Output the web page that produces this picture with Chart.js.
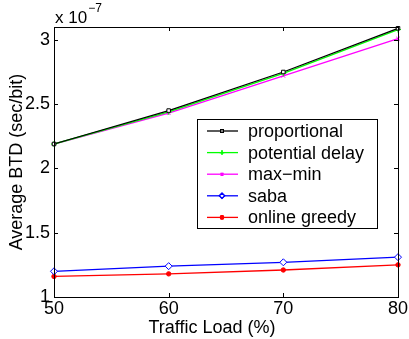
<!DOCTYPE html>
<html>
<head>
<meta charset="utf-8">
<script src="https://cdn.jsdelivr.net/npm/chart.js@4.4.1/dist/chart.umd.min.js"></script>
<style>
    body { margin: 0; background: #fff; }
    canvas { display: block; }
</style>
</head>
<body>
<canvas id="btd-chart" width="409" height="339"></canvas>
<script>
// traffic load (%) on the x axis
const loads = [50, 60, 70, 80];
// average BTD, in units of 1e-7 sec/bit
const proportional = [2.19, 2.45, 2.75, 3.09];
const potentialDelay = [2.19, 2.44, 2.74, 3.08];
const maxMin = [2.19, 2.43, 2.72, 3.01];
const saba = [1.20, 1.24, 1.27, 1.31];
const onlineGreedy = [1.16, 1.18, 1.21, 1.25];

const xTicks = [50, 60, 70, 80];
const yTicks = [1, 1.5, 2, 2.5, 3];
const yExponent = '\u22127';

const FONT = "'Liberation Sans', Arial, Helvetica, sans-serif";

function points(values) {
    return loads.map((x, i) => ({ x: x, y: values[i] }));
}

function series(label, values, color, style, fill, radius) {
    return {
        label: label,
        data: points(values),
        borderColor: color,
        backgroundColor: color,
        borderWidth: 1.3,
        pointStyle: style,
        pointRadius: radius,
        pointBackgroundColor: fill,
        pointBorderColor: color,
        pointBorderWidth: 1,
        clip: false,
        tension: 0
    };
}

// MATLAB-like box: frame, inward ticks, exponent, x label and legend
const matlabAxes = {
    id: 'matlabAxes',
    afterDatasetsDraw(chart) {
        const ctx = chart.ctx;
        const area = chart.chartArea;
        const xs = chart.scales.x;
        const ys = chart.scales.y;
        ctx.save();
        ctx.strokeStyle = '#000';
        ctx.lineWidth = 1;
        ctx.strokeRect(Math.round(area.left) + 0.5, Math.round(area.top) + 0.5,
            Math.round(area.right - area.left), Math.round(area.bottom - area.top));

        const tl = 4;
        ctx.beginPath();
        xTicks.forEach(v => {
            const px = Math.round(xs.getPixelForValue(v)) + 0.5;
            ctx.moveTo(px, area.bottom); ctx.lineTo(px, area.bottom - tl);
            ctx.moveTo(px, area.top); ctx.lineTo(px, area.top + tl);
        });
        yTicks.forEach(v => {
            const py = Math.round(ys.getPixelForValue(v)) + 0.5;
            ctx.moveTo(area.left, py); ctx.lineTo(area.left + tl, py);
            ctx.moveTo(area.right, py); ctx.lineTo(area.right - tl, py);
        });
        ctx.stroke();

        // exponent above the y axis
        ctx.fillStyle = '#000';
        ctx.textBaseline = 'alphabetic';
        ctx.textAlign = 'left';
        ctx.font = '17px ' + FONT;
        ctx.fillText('x 10', area.left + 1, 23);
        const w = ctx.measureText('x 10').width;
        ctx.font = '12px ' + FONT;
        ctx.fillText(yExponent, area.left + 2 + w, 12);

        // x axis label
        ctx.font = '18px ' + FONT;
        ctx.textAlign = 'center';
        ctx.fillText('Traffic Load (%)', 212, 333);

        // legend
        const box = { left: 197, top: 119, width: 180, height: 109 };
        ctx.fillStyle = '#fff';
        ctx.fillRect(box.left, box.top, box.width, box.height);
        ctx.strokeStyle = '#000';
        ctx.strokeRect(box.left + 0.5, box.top + 0.5, box.width, box.height);
        ctx.font = '18px ' + FONT;
        ctx.textAlign = 'left';
        ctx.textBaseline = 'middle';
        chart.data.datasets.forEach((ds, i) => {
            const y = box.top + 12 + i * 21.6;
            ctx.strokeStyle = ds.borderColor;
            ctx.lineWidth = ds.borderWidth;
            ctx.beginPath();
            ctx.moveTo(207, y); ctx.lineTo(238, y);
            ctx.stroke();
            Chart.helpers.drawPoint(ctx, {
                pointStyle: ds.pointStyle,
                radius: ds.pointRadius * 0.75,
                borderWidth: 1
            }, 222, y);
            ctx.fillStyle = ds.pointBackgroundColor;
            ctx.fill();
            ctx.stroke();
            ctx.fillStyle = '#000';
            ctx.fillText(ds.label, 248, y + 1);
        });
        ctx.restore();
    }
};

const ctx = document.getElementById('btd-chart');

new Chart(ctx, {
    type: 'line',
    data: {
        datasets: [
            series('proportional', proportional, '#000000', 'rect', '#ffffff', 2.5),
            series('potential delay', potentialDelay, '#00ff00', 'cross', '#00ff00', 3),
            series('max\u2212min', maxMin, '#ff00ff', 'crossRot', '#ff00ff', 2.5),
            series('saba', saba, '#0000ff', 'rectRot', '#ffffff', 3.5),
            series('online greedy', onlineGreedy, '#ff0000', 'circle', '#ff0000', 2.2)
        ]
    },
    options: {
        responsive: false,
        animation: false,
        layout: { padding: { top: 27, right: 11, left: 0, bottom: 0 } },
        plugins: {
            legend: { display: false },
            tooltip: { enabled: false }
        },
        scales: {
            x: {
                type: 'linear',
                min: 50,
                max: 80,
                grid: { display: false, drawTicks: false },
                border: { display: false },
                ticks: {
                    color: '#000',
                    padding: 1,
                    font: { family: FONT, size: 18 },
                    maxRotation: 0
                },
                afterBuildTicks: scale => { scale.ticks = xTicks.map(v => ({ value: v })); },
                afterFit: scale => {
                    scale.height = 42;
                    scale.paddingLeft = 0;
                    scale.paddingRight = 0;
                }
            },
            y: {
                min: 1,
                max: 3.1,
                grid: { display: false, drawTicks: false },
                border: { display: false },
                ticks: {
                    color: '#000',
                    padding: 4,
                    font: { family: FONT, size: 18 },
                    callback: v => String(v)
                },
                title: {
                    display: true,
                    text: 'Average BTD (sec/bit)',
                    color: '#000',
                    font: { family: FONT, size: 18 },
                    padding: { top: 6, bottom: 0 }
                },
                afterBuildTicks: scale => { scale.ticks = yTicks.map(v => ({ value: v })); },
                afterFit: scale => {
                    scale.width = 54;
                    scale.paddingTop = 0;
                    scale.paddingBottom = 0;
                }
            }
        }
    },
    plugins: [matlabAxes]
});
</script>
</body>
</html>
